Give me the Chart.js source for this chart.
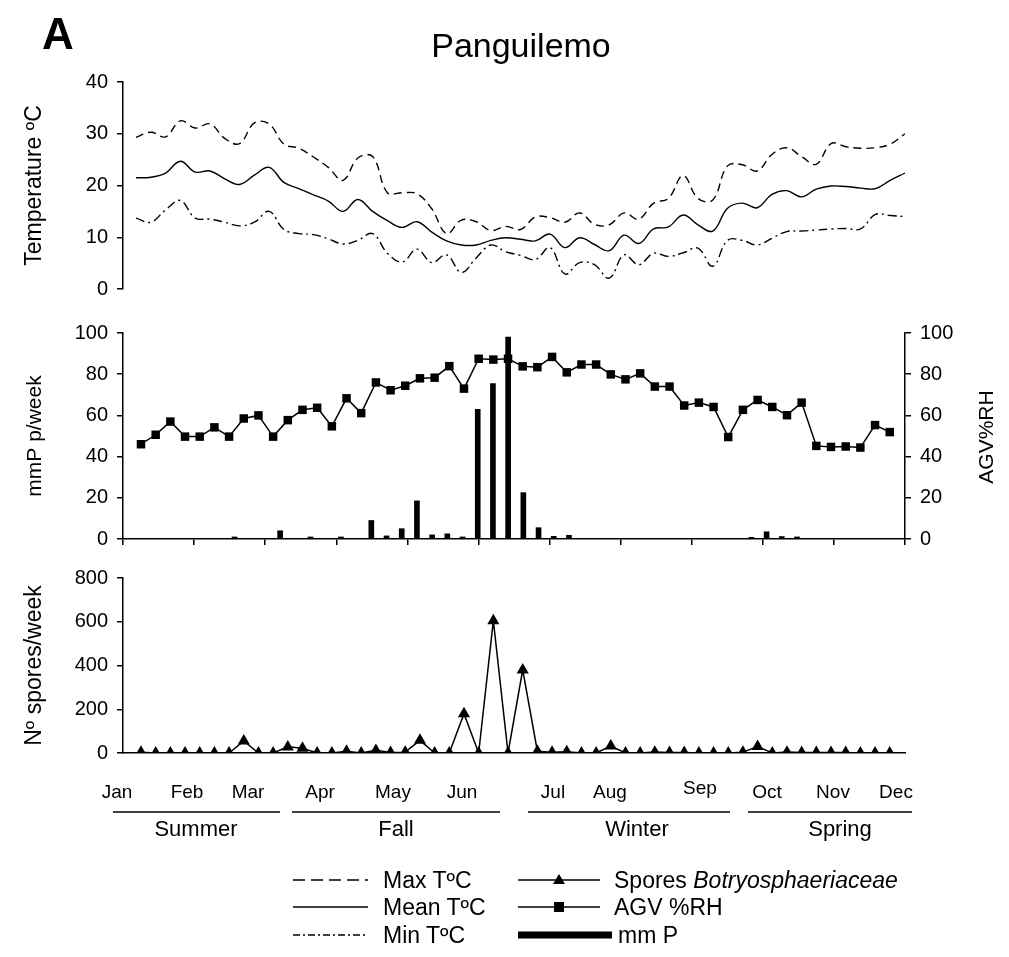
<!DOCTYPE html>
<html>
<head>
<meta charset="utf-8">
<script src="https://cdn.jsdelivr.net/npm/chart.js@4.4.1/dist/chart.umd.min.js"></script>
<style>
  body { margin: 0; background: #fff; font-family: "Liberation Sans", Arial, sans-serif; color: #000; }
  #wrap { position: relative; width: 1009px; height: 957px; overflow: hidden; background: #fff; }
  canvas { position: absolute; left: 0; }
  .lbl { position: absolute; white-space: nowrap; line-height: 1; transform: translate(-50%, -50%); }
  .lft { position: absolute; white-space: nowrap; line-height: 1; transform: translate(0, -50%); }
  svg { position: absolute; left: 0; top: 0; }
</style>
</head>
<body>
<div id="wrap">
  <canvas id="cTemp" width="1009" height="250" style="top:60px"></canvas>
  <canvas id="cRain" width="1009" height="250" style="top:310px"></canvas>
  <canvas id="cSpores" width="1009" height="219" style="top:555px"></canvas>
  <svg id="marks" width="1009" height="957"></svg>
</div>
<script>
// weekly sampling points
const weeks = [1,2,3,4,5,6,7,8,9,10,11,12,13,14,15,16,17,18,19,20,21,22,23,24,25,26,
               27,28,29,30,31,32,33,34,35,36,37,38,39,40,41,42,43,44,45,46,47,48,49,50,51,52];
const tempPoints = [1,2,3,4,5,6,7,8,9,10,11,12,13,14,15,16,17,18,19,20,21,22,23,24,25,26,27,
                    28,29,30,31,32,33,34,35,36,37,38,39,40,41,42,43,44,45,46,47,48,49,50,51,52,53];

// temperature (ºC)
const maxT = [29.3,30.3,29.4,32.5,31.1,31.9,29.1,28.1,32.1,31.9,28,27.2,25.5,23.5,21,25.3,25.6,18.6,
              18.6,18.4,15.5,10.7,13.3,13,11.3,12.1,11.5,13.9,13.8,12.9,14.7,12.5,12.4,14.7,13.5,16.6,
              17.5,21.9,17.5,17.2,23.8,24,22.8,26,27.3,25.6,24.1,28.1,27.5,27.2,27.3,28,30];
const meanT = [21.5,21.6,22.4,24.7,22.6,22.8,21.3,20.2,22,23.5,20.6,19.4,18.2,17,15,17.3,15,13.2,
               11.9,13,11,9.3,8.5,8.5,9.4,9.9,9.6,9.3,10.6,8.0,9.9,8.6,7.4,10.4,8.8,11.6,
               12,14.3,12.4,11.2,15.6,16.6,15.7,18.3,19,17.8,19.3,19.9,19.8,19.5,19.4,21,22.4];
const minT = [13.7,12.9,15.3,17.1,13.7,13.5,12.9,12.2,12.9,15,11.5,10.7,10.5,9.7,8.7,9.4,10.7,6.9,
              5.2,7.7,5.1,6.6,3.2,6,8.5,7.2,6.5,5.7,8,2.9,5.1,4.7,2.1,6.6,4.7,6.9,
              6.3,7,7.9,4.4,9.4,9.4,8.5,9.8,11.1,11.2,11.4,11.6,11.7,11.6,14.4,14.2,14];

// AGV %RH and weekly rain (mm)
const rhAGV = [46,50.6,57,49.7,49.7,54.2,49.7,58.5,60,49.7,57.7,62.7,63.7,54.7,68.3,61.1,76,72.2,
               74.4,78,78.3,83.9,73,87.5,87.1,87.5,83.8,83.4,88.4,80.9,84.7,84.7,79.9,77.5,80.4,74,
               74,64.8,66.2,64.1,49.5,62.7,67.5,64.1,60.1,66.2,45.2,44.7,44.9,44.4,55.3,51.9];
const rainMM = [0,0,0,0,0,0,0,1,0,0,4,0,1,0,1,0,9,1.5,5,18.5,2,2.5,1,63,75.5,98,22.5,5.5,1.3,1.8,
                0,0,0,0,0,0,0,0,0,0,0,0.8,3.5,1.2,1,0,0,0,0,0,0,0];

// spores Botryosphaeriaceae per week
const spores = [3,0,0,0,0,0,0,55,0,0,28,22,0,0,8,0,12,2,4,58,0,0,180,0,605,0,380,8,3,6,
                0,0,32,0,0,4,2,2,0,0,0,4,30,0,4,2,2,2,2,0,0,0];

const monthLabels = ['Jan','Feb','Mar','Apr','May','Jun','Jul','Aug','Sep','Oct','Nov','Dec'];
const seasonLabels = ['Summer','Fall','Winter','Spring'];

// layout (page pixels)
const monthPos = [[117,791],[187,791],[248,791],[320,791],[393,791],[462,791],
                  [553,791],[610,791],[700,787],[767,791],[833,791],[896,791]];
const seasonPos = [[196,829],[396,829],[637,829],[840,829]];
const seasonLines = [[113,280],[292,500],[528,730],[748,912]];

Chart.defaults.font.family = '"Liberation Sans", Arial, sans-serif';
Chart.defaults.color = '#000';

const black = '#000';
const tickFont = { size: 20 };

function leftAxis(min, max, step, title, titleSize) {
  return {
    position: 'left', min: min, max: max,
    ticks: { stepSize: step, padding: 9, font: tickFont, color: black },
    grid: { drawOnChartArea: false, tickLength: 6, color: black, lineWidth: 1.5 },
    border: { color: black, width: 1.5 },
    title: {
      display: true, text: title, font: { size: titleSize }, color: black,
      padding: { top: 35 - titleSize * 0.6, bottom: 0 }
    },
    afterFit: function(scale) { scale.width = 123; }
  };
}

const baseOpts = {
  responsive: false,
  animation: false,
  events: [],
  plugins: { legend: { display: false }, tooltip: { enabled: false } }
};

// Temperature panel
new Chart(document.getElementById('cTemp'), {
  type: 'line',
  data: {
    labels: tempPoints,
    datasets: [
      { label: 'Max TºC', data: maxT, borderDash: [8, 5] },
      { label: 'Mean TºC', data: meanT },
      { label: 'Min TºC', data: minT, borderDash: [9, 4, 2, 4] }
    ]
  },
  options: Object.assign({}, baseOpts, {
    layout: { padding: { top: 22, right: 104, bottom: 15, left: 0 } },
    elements: {
      point: { radius: 0 },
      line: { borderColor: black, borderWidth: 1.4, tension: 0.4, fill: false }
    },
    scales: {
      x: { type: 'linear', display: false, min: 0.12, max: 53 },
      y: leftAxis(0, 40, 10, 'Temperature ºC', 23)
    }
  })
});

// Rain + RH panel
const rhAxis = {
  position: 'right', min: 0, max: 100,
  ticks: { stepSize: 20, padding: 9, font: tickFont, color: black },
  grid: { drawOnChartArea: false, tickLength: 6, color: black, lineWidth: 1.5 },
  border: { color: black, width: 1.5 },
  afterFit: function(scale) { scale.width = 104; }
};

new Chart(document.getElementById('cRain'), {
  type: 'line',
  data: {
    labels: weeks,
    datasets: [
      {
        type: 'line', label: 'AGV %RH', data: rhAGV, xAxisID: 'x', yAxisID: 'y1',
        borderColor: black, backgroundColor: black, borderWidth: 1.5, tension: 0,
        pointStyle: 'rect', pointRadius: 6, pointBackgroundColor: black, pointBorderWidth: 0
      },
      {
        type: 'bar', label: 'mm P', data: rainMM, xAxisID: 'xb', yAxisID: 'y',
        backgroundColor: black, barThickness: 5
      }
    ]
  },
  options: Object.assign({}, baseOpts, {
    layout: { padding: { top: 23, right: 0, bottom: 13, left: 0 } },
    scales: {
      x: { type: 'linear', display: false, min: -0.226, max: 53.04 },
      xb: { type: 'linear', display: false, offset: false, min: 0.83, max: 52.27 },
      xt: {
        type: 'linear', position: 'bottom', min: 0, max: 11,
        ticks: { display: false, stepSize: 1 },
        grid: { drawOnChartArea: false, tickLength: 6, color: black, lineWidth: 1.5 },
        border: { color: black, width: 1.5 }
      },
      y: leftAxis(0, 100, 20, 'mmP p/week', 21),
      y1: rhAxis
    }
  })
});

// Spores panel
new Chart(document.getElementById('cSpores'), {
  type: 'line',
  data: {
    labels: weeks,
    datasets: [{
      label: 'Spores Botryosphaeriaceae', data: spores,
      borderColor: black, backgroundColor: black, borderWidth: 1.5, tension: 0,
      pointStyle: 'triangle', pointRadius: 7, pointBackgroundColor: black, pointBorderWidth: 0
    }]
  },
  options: Object.assign({}, baseOpts, {
    layout: { padding: { top: 23, right: 104, bottom: 14, left: 0 } },
    scales: {
      x: {
        type: 'linear', min: -0.226, max: 53.04,
        ticks: { display: false },
        grid: { display: false, drawTicks: false },
        border: { display: true, color: black, width: 1.5 }
      },
      y: leftAxis(0, 800, 200, 'Nº spores/week', 23)
    }
  })
});

// texts
const wrap = document.getElementById('wrap');
function addText(text, x, y, size, cls, extra) {
  const d = document.createElement('div');
  d.className = cls || 'lbl';
  d.style.left = x + 'px';
  d.style.top = y + 'px';
  d.style.fontSize = size + 'px';
  if (extra) Object.assign(d.style, extra);
  d.innerHTML = text;
  wrap.appendChild(d);
  return d;
}

addText('A', 58, 34, 44, 'lbl', { fontWeight: 'bold' });
addText('Panguilemo', 521, 45, 34);
addText('AGV%RH', 985, 437, 21, 'lbl', { transform: 'translate(-50%, -50%) rotate(-90deg)' });

monthLabels.forEach((m, i) => addText(m, monthPos[i][0], monthPos[i][1], 19));
seasonLabels.forEach((s, i) => addText(s, seasonPos[i][0], seasonPos[i][1], 22));

addText('Max TºC', 383, 880, 23, 'lft');
addText('Mean TºC', 383, 907, 23, 'lft');
addText('Min TºC', 383, 935, 23, 'lft');
addText('Spores <i>Botryosphaeriaceae</i>', 614, 880, 23, 'lft');
addText('AGV %RH', 614, 907, 23, 'lft');
addText('mm P', 618, 935, 23, 'lft');

// season underlines and legend samples
const svg = document.getElementById('marks');
let s = '';
seasonLines.forEach(l => {
  s += `<line x1="${l[0]}" y1="812" x2="${l[1]}" y2="812" stroke="#000" stroke-width="1.6"/>`;
});
s += '<line x1="293" y1="880" x2="368" y2="880" stroke="#000" stroke-width="1.5" stroke-dasharray="12 6"/>';
s += '<line x1="293" y1="907" x2="368" y2="907" stroke="#000" stroke-width="1.5"/>';
s += '<line x1="293" y1="935" x2="368" y2="935" stroke="#000" stroke-width="1.5" stroke-dasharray="7 3 2 3"/>';
s += '<line x1="518" y1="880" x2="600" y2="880" stroke="#000" stroke-width="1.5"/>';
s += '<polygon points="559,874 553,884 565,884" fill="#000"/>';
s += '<line x1="518" y1="907" x2="600" y2="907" stroke="#000" stroke-width="1.5"/>';
s += '<rect x="554" y="902" width="10" height="10" fill="#000"/>';
s += '<rect x="518" y="931.5" width="94" height="7" fill="#000"/>';
svg.innerHTML = s;
</script>
</body>
</html>
